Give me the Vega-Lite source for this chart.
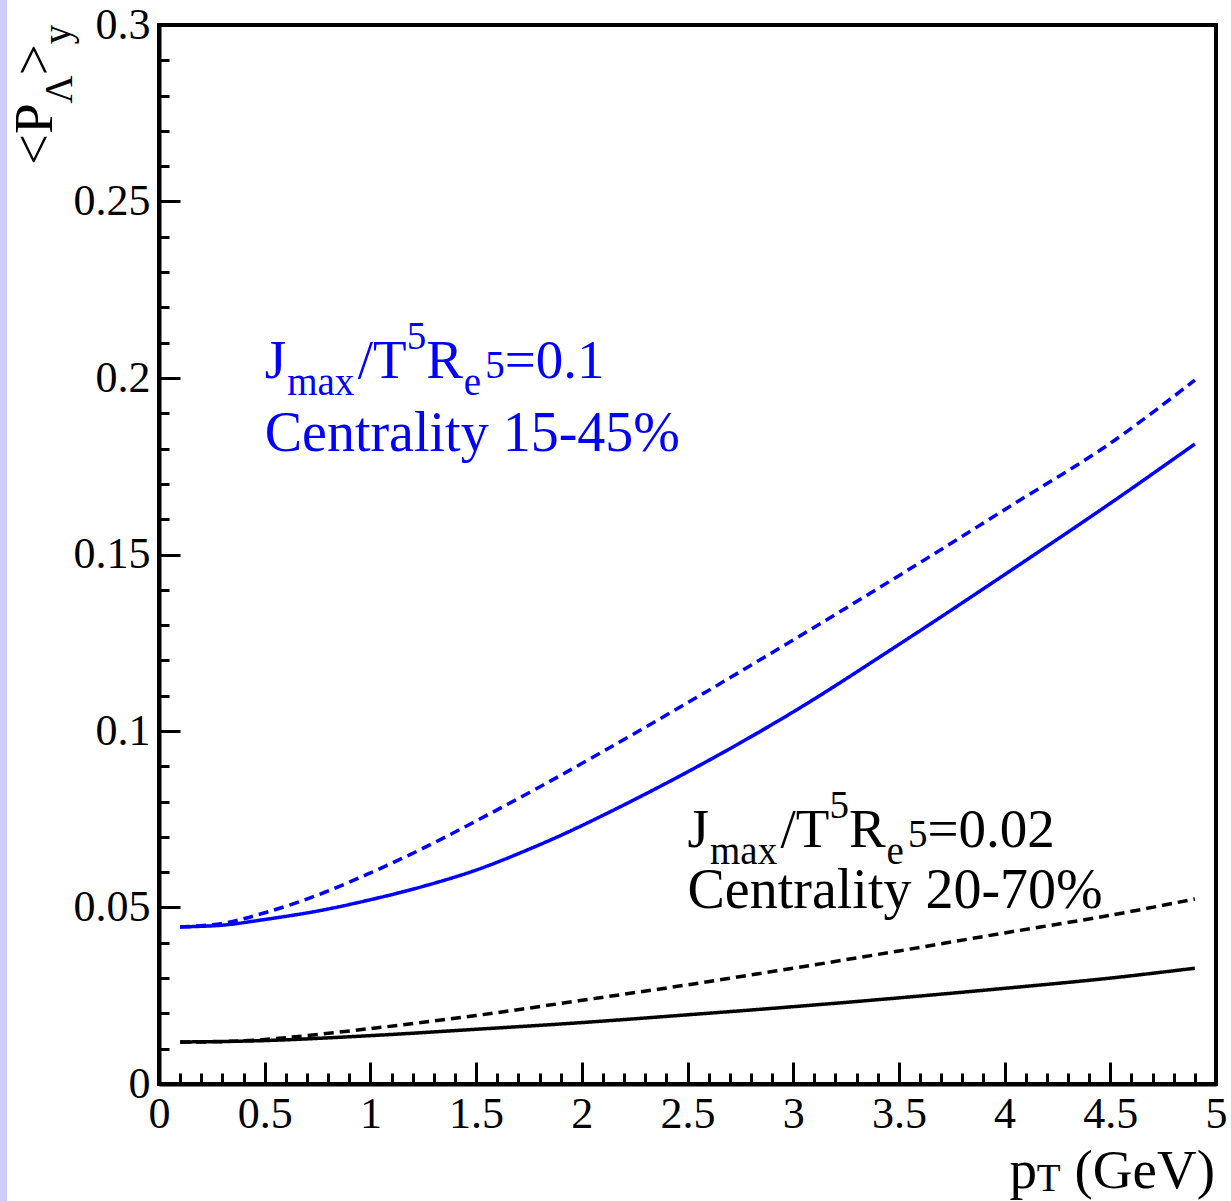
{
  "$schema": "https://vega.github.io/schema/vega-lite/v6.json",
  "width": 1057,
  "height": 1059,
  "autosize": {"type": "none"},
  "padding": {"left": 159, "top": 25, "right": 15, "bottom": 117},
  "background": "white",
  "config": {"view": {"stroke": "black", "strokeWidth": 4}, "text": {"font": "Liberation Serif"}},
  "resolve": {"axis": {"x": "independent", "y": "independent"}},
  "datasets": {
    "curves": [
      {"set": "A", "style": "solid", "pT": 0.1, "P": 0.0445},
      {"set": "A", "style": "solid", "pT": 0.3, "P": 0.0450},
      {"set": "A", "style": "solid", "pT": 0.5, "P": 0.0466},
      {"set": "A", "style": "solid", "pT": 0.75, "P": 0.0490},
      {"set": "A", "style": "solid", "pT": 1.0, "P": 0.0522},
      {"set": "A", "style": "solid", "pT": 1.25, "P": 0.0560},
      {"set": "A", "style": "solid", "pT": 1.5, "P": 0.0606},
      {"set": "A", "style": "solid", "pT": 1.75, "P": 0.0665},
      {"set": "A", "style": "solid", "pT": 2.0, "P": 0.0732},
      {"set": "A", "style": "solid", "pT": 2.5, "P": 0.0884},
      {"set": "A", "style": "solid", "pT": 3.0, "P": 0.1054},
      {"set": "A", "style": "solid", "pT": 3.5, "P": 0.1245},
      {"set": "A", "style": "solid", "pT": 4.0, "P": 0.1443},
      {"set": "A", "style": "solid", "pT": 4.5, "P": 0.1645},
      {"set": "A", "style": "solid", "pT": 4.9, "P": 0.1813},
      {"set": "A", "style": "dashed", "pT": 0.1, "P": 0.0445},
      {"set": "A", "style": "dashed", "pT": 0.3, "P": 0.0455},
      {"set": "A", "style": "dashed", "pT": 0.5, "P": 0.0485},
      {"set": "A", "style": "dashed", "pT": 0.75, "P": 0.0535},
      {"set": "A", "style": "dashed", "pT": 1.0, "P": 0.0598},
      {"set": "A", "style": "dashed", "pT": 1.25, "P": 0.0668},
      {"set": "A", "style": "dashed", "pT": 1.5, "P": 0.0745},
      {"set": "A", "style": "dashed", "pT": 1.75, "P": 0.0825},
      {"set": "A", "style": "dashed", "pT": 2.0, "P": 0.0908},
      {"set": "A", "style": "dashed", "pT": 2.5, "P": 0.1080},
      {"set": "A", "style": "dashed", "pT": 3.0, "P": 0.1258},
      {"set": "A", "style": "dashed", "pT": 3.5, "P": 0.1440},
      {"set": "A", "style": "dashed", "pT": 4.0, "P": 0.1627},
      {"set": "A", "style": "dashed", "pT": 4.5, "P": 0.1815},
      {"set": "A", "style": "dashed", "pT": 4.9, "P": 0.1994},
      {"set": "B", "style": "solid", "pT": 0.1, "P": 0.0119},
      {"set": "B", "style": "solid", "pT": 0.5, "P": 0.0123},
      {"set": "B", "style": "solid", "pT": 1.0, "P": 0.0137},
      {"set": "B", "style": "solid", "pT": 1.5, "P": 0.0155},
      {"set": "B", "style": "solid", "pT": 2.0, "P": 0.0174},
      {"set": "B", "style": "solid", "pT": 2.5, "P": 0.0196},
      {"set": "B", "style": "solid", "pT": 3.0, "P": 0.0219},
      {"set": "B", "style": "solid", "pT": 3.5, "P": 0.0244},
      {"set": "B", "style": "solid", "pT": 4.0, "P": 0.0271},
      {"set": "B", "style": "solid", "pT": 4.5, "P": 0.0300},
      {"set": "B", "style": "solid", "pT": 4.9, "P": 0.0328},
      {"set": "B", "style": "dashed", "pT": 0.1, "P": 0.0119},
      {"set": "B", "style": "dashed", "pT": 0.3, "P": 0.0120},
      {"set": "B", "style": "dashed", "pT": 0.5, "P": 0.0126},
      {"set": "B", "style": "dashed", "pT": 1.0, "P": 0.0157},
      {"set": "B", "style": "dashed", "pT": 1.5, "P": 0.0194},
      {"set": "B", "style": "dashed", "pT": 2.0, "P": 0.0237},
      {"set": "B", "style": "dashed", "pT": 2.5, "P": 0.0281},
      {"set": "B", "style": "dashed", "pT": 3.0, "P": 0.0328},
      {"set": "B", "style": "dashed", "pT": 3.5, "P": 0.0377},
      {"set": "B", "style": "dashed", "pT": 4.0, "P": 0.0428},
      {"set": "B", "style": "dashed", "pT": 4.5, "P": 0.0478},
      {"set": "B", "style": "dashed", "pT": 4.9, "P": 0.0524}
    ],
    "ann": [
      {"set": "A", "x": 0.5, "y": 0.2, "eq": "=0.1"},
      {"set": "B", "x": 2.5, "y": 0.0671, "eq": "=0.02"}
    ],
    "cent": [
      {"set": "A", "x": 0.5, "y": 0.1793, "text": "Centrality 15-45%"},
      {"set": "B", "x": 2.5, "y": 0.0499, "text": "Centrality 20-70%"}
    ]
  },
  "layer": [
    {
      "data": {"values": [{}]},
      "mark": {"type": "rect", "color": "#ccccff"},
      "encoding": {
        "x": {
          "datum": -0.76, "type": "quantitative",
          "scale": {"domain": [0, 5], "nice": false, "zero": false},
          "axis": {
            "orient": "bottom", "title": null, "grid": false, "labels": false, "domain": false,
            "values": [0,0.1,0.2,0.3,0.4,0.5,0.6,0.7,0.8,0.9,1,1.1,1.2,1.3,1.4,1.5,1.6,1.7,1.8,1.9,2,2.1,2.2,2.3,2.4,2.5,2.6,2.7,2.8,2.9,3,3.1,3.2,3.3,3.4,3.5,3.6,3.7,3.8,3.9,4,4.1,4.2,4.3,4.4,4.5,4.6,4.7,4.8,4.9,5],
            "tickSize": -11, "tickWidth": 3, "tickColor": "black"
          }
        },
        "x2": {"datum": -0.719},
        "y": {
          "datum": 0.31, "type": "quantitative",
          "scale": {"domain": [0, 0.3], "nice": false},
          "axis": {
            "orient": "left", "title": null, "grid": false, "labels": false, "domain": false,
            "values": [0,0.01,0.02,0.03,0.04,0.05,0.06,0.07,0.08,0.09,0.1,0.11,0.12,0.13,0.14,0.15,0.16,0.17,0.18,0.19,0.2,0.21,0.22,0.23,0.24,0.25,0.26,0.27,0.28,0.29,0.3],
            "tickSize": -10, "tickWidth": 3, "tickColor": "black"
          }
        },
        "y2": {"datum": -0.04}
      }
    },
    {
      "data": {"name": "curves"},
      "mark": {"type": "line", "strokeWidth": 3.5, "interpolate": "catmull-rom"},
      "encoding": {
        "x": {
          "field": "pT", "type": "quantitative",
          "scale": {"domain": [0, 5], "nice": false, "zero": false},
          "axis": {
            "orient": "bottom", "title": null, "grid": false,
            "values": [0,0.5,1,1.5,2,2.5,3,3.5,4,4.5,5],
            "format": "~g",
            "tickSize": -22, "tickWidth": 3, "tickColor": "black",
            "domainColor": "black", "domainWidth": 4,
            "labelFont": "Liberation Serif", "labelFontSize": 44, "labelColor": "black",
            "labelPadding": 30, "labelOverlap": false, "labelFlush": false, "labelBound": false
          }
        },
        "y": {
          "field": "P", "type": "quantitative",
          "scale": {"domain": [0, 0.3], "nice": false},
          "axis": {
            "orient": "left", "title": null, "grid": false,
            "values": [0,0.05,0.1,0.15,0.2,0.25,0.3],
            "format": "~g",
            "tickSize": -21, "tickWidth": 3, "tickColor": "black",
            "domainColor": "black", "domainWidth": 4,
            "labelFont": "Liberation Serif", "labelFontSize": 44, "labelColor": "black",
            "labelPadding": 30, "labelOverlap": false, "labelFlush": false, "labelBound": false
          }
        },
        "color": {"field": "set", "type": "nominal", "scale": {"domain": ["A", "B"], "range": ["#0000ff", "#000000"]}, "legend": null},
        "strokeDash": {"field": "style", "type": "nominal", "scale": {"domain": ["solid", "dashed"], "range": [[1, 0], [10, 6]]}, "legend": null},
        "detail": {"field": "style"}
      }
    },
    {
      "data": {"name": "ann"},
      "mark": {"type": "text", "text": "J", "fontSize": 55, "align": "left", "baseline": "alphabetic", "font": "Liberation Serif", "dx": 0, "dy": 0},
      "encoding": {"x": {"field": "x", "type": "quantitative", "axis": null}, "y": {"field": "y", "type": "quantitative", "axis": null}, "color": {"field": "set", "type": "nominal", "legend": null}}
    },
    {
      "data": {"name": "ann"},
      "mark": {"type": "text", "text": "max", "fontSize": 39, "align": "left", "baseline": "alphabetic", "font": "Liberation Serif", "dx": 22.5, "dy": 17},
      "encoding": {"x": {"field": "x", "type": "quantitative", "axis": null}, "y": {"field": "y", "type": "quantitative", "axis": null}, "color": {"field": "set", "type": "nominal", "legend": null}}
    },
    {
      "data": {"name": "ann"},
      "mark": {"type": "text", "text": "/T", "fontSize": 55, "align": "left", "baseline": "alphabetic", "font": "Liberation Serif", "dx": 93, "dy": 0},
      "encoding": {"x": {"field": "x", "type": "quantitative", "axis": null}, "y": {"field": "y", "type": "quantitative", "axis": null}, "color": {"field": "set", "type": "nominal", "legend": null}}
    },
    {
      "data": {"name": "ann"},
      "mark": {"type": "text", "text": "5", "fontSize": 39, "align": "left", "baseline": "alphabetic", "font": "Liberation Serif", "dx": 142, "dy": -29},
      "encoding": {"x": {"field": "x", "type": "quantitative", "axis": null}, "y": {"field": "y", "type": "quantitative", "axis": null}, "color": {"field": "set", "type": "nominal", "legend": null}}
    },
    {
      "data": {"name": "ann"},
      "mark": {"type": "text", "text": "R", "fontSize": 55, "align": "left", "baseline": "alphabetic", "font": "Liberation Serif", "dx": 161.5, "dy": 0},
      "encoding": {"x": {"field": "x", "type": "quantitative", "axis": null}, "y": {"field": "y", "type": "quantitative", "axis": null}, "color": {"field": "set", "type": "nominal", "legend": null}}
    },
    {
      "data": {"name": "ann"},
      "mark": {"type": "text", "text": "e", "fontSize": 39, "align": "left", "baseline": "alphabetic", "font": "Liberation Serif", "dx": 199, "dy": 17},
      "encoding": {"x": {"field": "x", "type": "quantitative", "axis": null}, "y": {"field": "y", "type": "quantitative", "axis": null}, "color": {"field": "set", "type": "nominal", "legend": null}}
    },
    {
      "data": {"name": "ann"},
      "mark": {"type": "text", "text": "5", "fontSize": 39, "align": "left", "baseline": "alphabetic", "font": "Liberation Serif", "dx": 220.5, "dy": 0},
      "encoding": {"x": {"field": "x", "type": "quantitative", "axis": null}, "y": {"field": "y", "type": "quantitative", "axis": null}, "color": {"field": "set", "type": "nominal", "legend": null}}
    },
    {
      "data": {"name": "ann"},
      "mark": {"type": "text", "fontSize": 55, "align": "left", "baseline": "alphabetic", "font": "Liberation Serif", "dx": 240, "dy": 0},
      "encoding": {"x": {"field": "x", "type": "quantitative", "axis": null}, "y": {"field": "y", "type": "quantitative", "axis": null}, "text": {"field": "eq"}, "color": {"field": "set", "type": "nominal", "legend": null}}
    },
    {
      "data": {"name": "cent"},
      "mark": {"type": "text", "fontSize": 56, "align": "left", "baseline": "alphabetic", "font": "Liberation Serif"},
      "encoding": {"x": {"field": "x", "type": "quantitative", "axis": null}, "y": {"field": "y", "type": "quantitative", "axis": null}, "text": {"field": "text"}, "color": {"field": "set", "type": "nominal", "legend": null}}
    },
    {
      "data": {"values": [{}]},
      "mark": {"type": "text", "text": "<P", "fontSize": 55, "angle": 270, "align": "left", "baseline": "alphabetic", "font": "Liberation Serif", "color": "black", "dx": -140, "dy": -107},
      "encoding": {"x": {"datum": 0, "type": "quantitative", "axis": null}, "y": {"datum": 0.3, "type": "quantitative", "axis": null}}
    },
    {
      "data": {"values": [{}]},
      "mark": {"type": "text", "text": "Λ", "fontSize": 39, "angle": 270, "align": "left", "baseline": "alphabetic", "font": "Liberation Serif", "color": "black", "dx": -78.4, "dy": -87},
      "encoding": {"x": {"datum": 0, "type": "quantitative", "axis": null}, "y": {"datum": 0.3, "type": "quantitative", "axis": null}}
    },
    {
      "data": {"values": [{}]},
      "mark": {"type": "text", "text": ">", "fontSize": 55, "angle": 270, "align": "left", "baseline": "alphabetic", "font": "Liberation Serif", "color": "black", "dx": -50.2, "dy": -107},
      "encoding": {"x": {"datum": 0, "type": "quantitative", "axis": null}, "y": {"datum": 0.3, "type": "quantitative", "axis": null}}
    },
    {
      "data": {"values": [{}]},
      "mark": {"type": "text", "text": "y", "fontSize": 39, "angle": 270, "align": "left", "baseline": "alphabetic", "font": "Liberation Serif", "color": "black", "dx": -19.2, "dy": -89},
      "encoding": {"x": {"datum": 0, "type": "quantitative", "axis": null}, "y": {"datum": 0.3, "type": "quantitative", "axis": null}}
    },
    {
      "data": {"values": [{}]},
      "mark": {"type": "text", "text": "(GeV)", "fontSize": 55, "align": "right", "baseline": "alphabetic", "font": "Liberation Serif", "color": "black", "dx": -1, "dy": 104},
      "encoding": {"x": {"datum": 5, "type": "quantitative", "axis": null}, "y": {"datum": 0, "type": "quantitative", "axis": null}}
    },
    {
      "data": {"values": [{}]},
      "mark": {"type": "text", "text": "T", "fontSize": 39, "align": "right", "baseline": "alphabetic", "font": "Liberation Serif", "color": "black", "dx": -155.3, "dy": 107},
      "encoding": {"x": {"datum": 5, "type": "quantitative", "axis": null}, "y": {"datum": 0, "type": "quantitative", "axis": null}}
    },
    {
      "data": {"values": [{}]},
      "mark": {"type": "text", "text": "p", "fontSize": 55, "align": "right", "baseline": "alphabetic", "font": "Liberation Serif", "color": "black", "dx": -179, "dy": 104},
      "encoding": {"x": {"datum": 5, "type": "quantitative", "axis": null}, "y": {"datum": 0, "type": "quantitative", "axis": null}}
    }
  ]
}
